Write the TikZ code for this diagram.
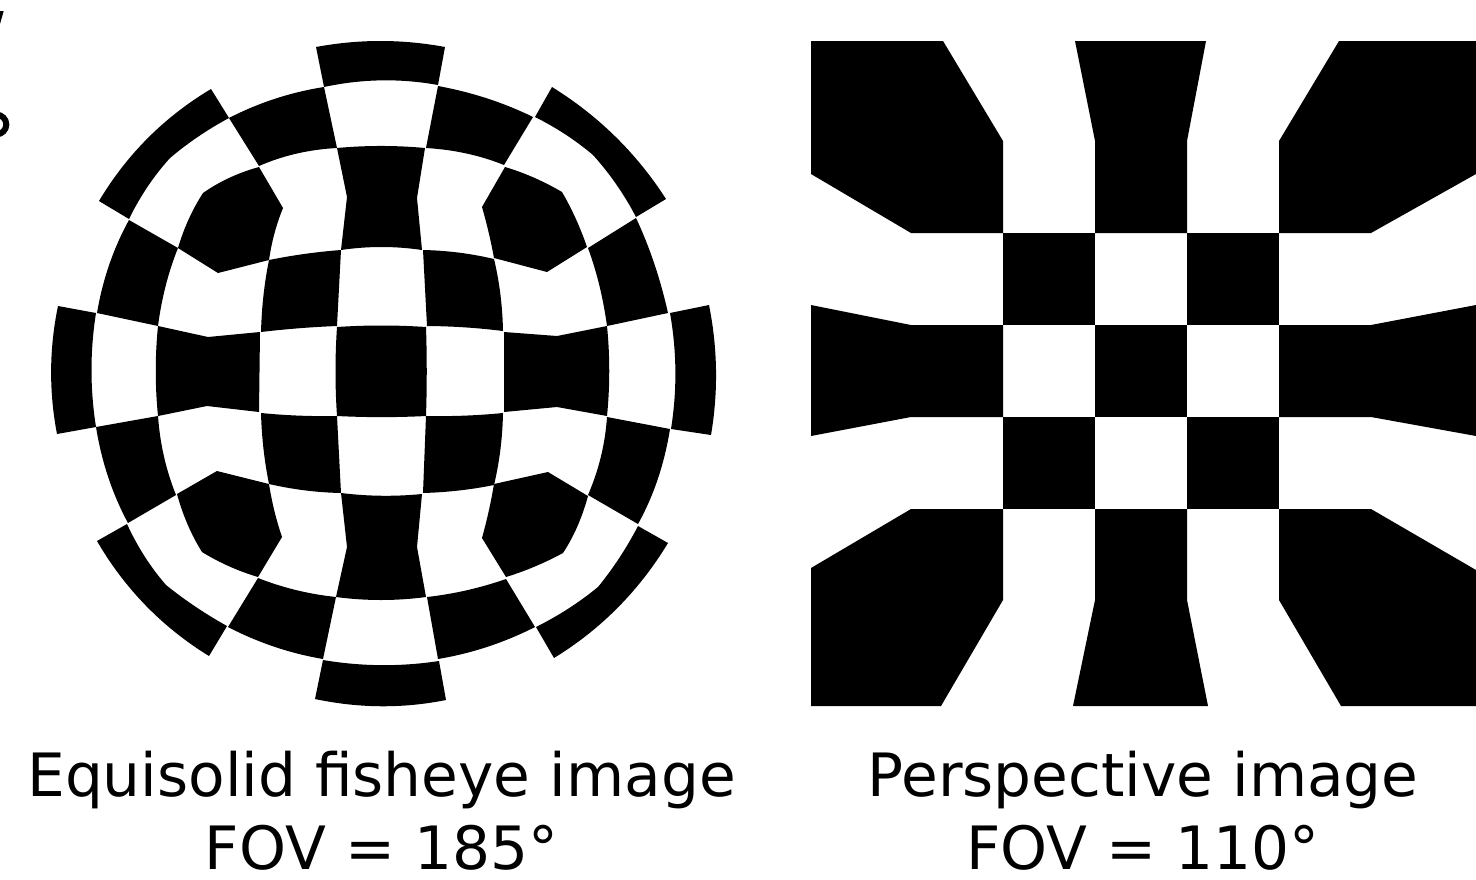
\documentclass[tikz,border=0pt]{standalone}
\usepackage{fontspec}
\setmainfont{DejaVu Sans}
\tikzset{
  cell/.style={fill=black,draw=none},
  caption/.style={font=\fontsize{34}{41.4}\selectfont,align=center,text=black,inner sep=0pt,text depth=0pt,anchor=south}
}
% bent edge: start, bend point, end
\def\seg(#1,#2)(#3,#4)(#5,#6){.. controls ({#3+(#1-#5)/6},{#4+(#2-#6)/6}) and ({#3-(#1-#5)/6},{#4-(#2-#6)/6}) .. (#5,#6)}
\begin{document}
\begin{tikzpicture}[x=0.02cm,y=-0.02cm]
  \useasboundingbox (0,0) rectangle (1476,879);
  \clip (0,0) rectangle (1476,879);
  % cut-off glyphs at the left edge
  \fill[cell] (0,11)--(3.7,11)--(0,24)--cycle;
  \draw[line width=6*0.02cm] (-3.5,124.5) circle[radius=9.8];
  % fisheye: outer ring
  \fill[cell] (316,47) \seg(316,47)(380.5,39)(445,47) --(438,85) \seg(438,85)(381,78.5)(324,87) --cycle;
  \fill[cell] (211,89) \seg(211,89)(145.6,135.6)(99,201) --(129,219) \seg(129,219)(147,186)(170,158) \seg(170,158)(198,136)(229,118) --cycle;
  \fill[cell] (552,87) \seg(552,87)(617.5,134.5)(666,199) --(636,217) \seg(636,217)(617,184)(593,155) \seg(593,155)(566,134)(535,117) --cycle;
  \fill[cell] (58,306)--(96,313) \seg(96,313)(90,370)(96,427) --(57,434) \seg(57,434)(49,370)(58,306) --cycle;
  \fill[cell] (670,313)--(709,305) \seg(709,305)(718,370)(711,435) --(671,429) \seg(671,429)(677,371)(670,313) --cycle;
  \fill[cell] (127,524)--(97,541) \seg(97,541)(143.5,608)(209,656) --(227,626) \seg(227,626)(195,607)(166,585) \seg(166,585)(144,557)(127,524) --cycle;
  \fill[cell] (638,526)--(668,543) \seg(668,543)(620,610)(554,658) --(536,627) \seg(536,627)(569,609)(598,587) \seg(598,587)(620,558)(638,526) --cycle;
  \fill[cell] (323,660) \seg(323,660)(381,666.7)(439,661) --(446,700) \seg(446,700)(381,708.5)(315,699) --cycle;
  % fisheye: second ring
  \fill[cell] (324,87) \seg(324,87)(274.5,97.5)(229,118) --(259,166) \seg(259,166)(296,152.5)(337,148) --cycle;
  \fill[cell] (438,86) \seg(438,86)(488,97.5)(533,117) --(504,165) \seg(504,165)(467,152.5)(426,148) --cycle;
  \fill[cell] (129,220)--(178,248) \seg(178,248)(165,285)(158,326) --(97,313) \seg(97,313)(108,264)(129,220) --cycle;
  \fill[cell] (636,218) \seg(636,218)(655,263)(668,313) --(607,326) \seg(607,326)(600,285)(588,248) --cycle;
  \fill[cell] (96,427)--(158,416) \seg(158,416)(163,457)(176,495) --(128,523) \seg(128,523)(107,478)(96,427) --cycle;
  \fill[cell] (607,417)--(670,429) \seg(670,429)(659,480)(638,524) --(588,495) \seg(588,495)(602,457)(607,417) --cycle;
  \fill[cell] (258,578) \seg(258,578)(296,591)(336,597) --(323,659) \seg(323,659)(274,648)(228,627) --cycle;
  \fill[cell] (506,579) \seg(506,579)(467,591)(427,597) --(438,659) \seg(438,659)(488,648)(535,627) --cycle;
  % fisheye: hexagons at the corners
  \fill[cell] (259,167)--(283,208) \seg(283,208)(274,233)(269,260) --(218,273)--(178,248) \seg(178,248)(188,219)(203,193) \seg(203,193)(229,177)(259,167) --cycle;
  \fill[cell] (505,167) \seg(505,167)(534,177)(562,192) \seg(562,192)(576,218)(587,247) --(547,272)--(494,258) \seg(494,258)(489,233)(482,207) --cycle;
  \fill[cell] (177,494)--(217,471)--(269,484) \seg(269,484)(274,511)(282,537) --(258,577) \seg(258,577)(229,567)(202,552) \seg(202,552)(187,525)(177,494) --cycle;
  \fill[cell] (494,484)--(548,472)--(588,496) \seg(588,496)(578,527)(563,553) \seg(563,553)(535,567)(506,577) --(482,538) \seg(482,538)(489,511)(494,484) --cycle;
  % fisheye: the cross and the inner squares
  \fill[cell] (337,148) \seg(337,148)(381,145.3)(425,148) --(417,198)--(422,250) \seg(422,250)(381.5,246)(341,250) --(347,197)--cycle;
  \fill[cell] (341,493) \seg(341,493)(381.5,496.5)(422,494) --(417,547)--(426,597) \seg(426,597)(381,601)(336,597) --(347,547)--cycle;
  \fill[cell] (158,326)--(208,337)--(260,332)--(259,412)--(207,406)--(158,416) \seg(158,416)(155,371)(158,326) --cycle;
  \fill[cell] (504,332)--(557,336)--(607,326) \seg(607,326)(610,371)(607,416) --(557,407)--(504,412)--cycle;
  \fill[cell] (269,260) \seg(269,260)(305,253.5)(341,250) --(337,326) \seg(337,326)(299,328)(261,332) \seg(261,332)(263,295)(269,260) --cycle;
  \fill[cell] (423,250) \seg(423,250)(459,252)(494,259) \seg(494,259)(501,294)(503,331) \seg(503,331)(465,327)(427,326) --cycle;
  \fill[cell] (337,327) \seg(337,327)(381.5,325)(426,327) \seg(426,327)(427,371.5)(426,416) \seg(426,416)(381.5,417.5)(337,416) \seg(337,416)(335,371.5)(337,327) --cycle;
  \fill[cell] (261,413) \seg(261,413)(299,416)(337,416) --(341,493) \seg(341,493)(305,491)(269,484) \seg(269,484)(263,449)(261,413) --cycle;
  \fill[cell] (426,416) \seg(426,416)(465,416)(503,413) \seg(503,413)(501,450)(494,485) \seg(494,485)(459,491)(423,493) --cycle;
  % perspective
  \fill[cell] (811,41)--(943,41)--(1003,141)--(1003,233)--(911,233)--(811,174)--cycle;
  \fill[cell] (1075,41)--(1206,41)--(1187,141)--(1187,233)--(1095,233)--(1095,141)--cycle;
  \fill[cell] (1339,41)--(1476,41)--(1476,174)--(1371,233)--(1279,233)--(1279,141)--cycle;
  \fill[cell] (811,305)--(911,325)--(1003,325)--(1003,417)--(911,417)--(811,436)--cycle;
  \fill[cell] (1279,325)--(1371,325)--(1476,305)--(1476,436)--(1371,417)--(1279,417)--cycle;
  \fill[cell] (811,568)--(911,509)--(1003,509)--(1003,600)--(941,706)--(811,706)--cycle;
  \fill[cell] (1095,509)--(1187,509)--(1187,600)--(1208,706)--(1073,706)--(1095,600)--cycle;
  \fill[cell] (1279,509)--(1371,509)--(1476,570)--(1476,706)--(1341,706)--(1279,600)--cycle;
  \foreach \cx/\cy in {1003/233,1187/233,1095/325,1003/417,1187/417}
    \fill[cell] (\cx,\cy) rectangle ++(92,92);
  % captions
  \node[caption] (fisheye) at (381.5,870) {Equisolid fisheye image\\FOV = 185°};
  \node[caption] (persp) at (1143,870) {Perspective image\\FOV = 110°};
\end{tikzpicture}
\end{document}
